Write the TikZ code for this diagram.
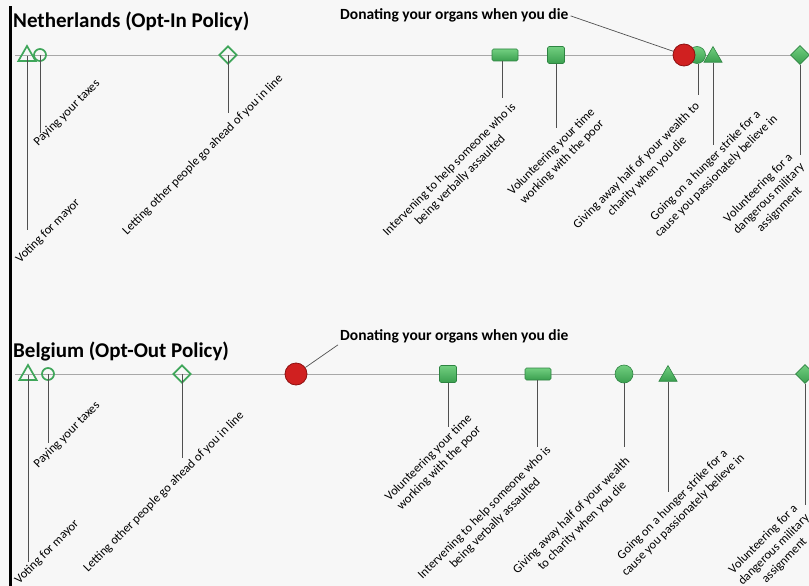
\documentclass[tikz,border=0pt]{standalone}
\usepackage{fontspec}
\setmainfont{Carlito}
\usepackage{xcolor}
\usetikzlibrary{shapes.geometric}
\definecolor{bgGray}{HTML}{F7F7F7}
\definecolor{axisGray}{HTML}{A8A8A8}
\definecolor{leadGray}{HTML}{505050}
\definecolor{outGreen}{HTML}{3FA65A}
\definecolor{topGreen}{HTML}{72CF80}
\definecolor{botGreen}{HTML}{3A9F4F}
\definecolor{edgeGreen}{HTML}{2E8442}
\definecolor{organRed}{HTML}{D02020}
\definecolor{edgeRed}{HTML}{8E1010}
\tikzset{
  openmark/.style={draw=outGreen, line width=1.7pt, fill=none, inner sep=0pt},
  fullmark/.style={draw=edgeGreen, line width=0.6pt, top color=topGreen, bottom color=botGreen, inner sep=0pt},
  trimark/.style={regular polygon, regular polygon sides=3, minimum size=20pt},
  circmark/.style={circle, minimum size=12pt},
  diamark/.style={diamond, minimum width=18pt, minimum height=18pt},
  barmark/.style={rectangle, rounded corners=1.5pt, minimum width=26pt, minimum height=12pt},
  sqmark/.style={rectangle, rounded corners=1.5pt, minimum width=17pt, minimum height=17pt},
  organmark/.style={circle, minimum size=22pt, inner sep=0pt, fill=organRed, draw=edgeRed, line width=0.8pt},
  leader/.style={draw=leadGray, line width=0.9pt},
  itemtext/.style={rotate=45, align=center, inner sep=0pt, font=\fontsize{12.5}{15}\selectfont},
  countrytitle/.style={anchor=base west, inner sep=0pt, font=\fontsize{21}{24}\selectfont\bfseries},
  organtext/.style={inner sep=2pt, font=\fontsize{15.5}{18}\selectfont\bfseries}
}
\begin{document}
\begin{tikzpicture}[x=1pt,y=-1pt]
\useasboundingbox (0,0) rectangle (809,586);
\clip (0,0) rectangle (809,586);
\fill[bgGray] (0,0) rectangle (809,586);
\fill[black] (9,6) rectangle (12,586);
\foreach \ly in {55,374}
    \draw[axisGray, line width=0.8pt] (15,\ly) -- (809,\ly);

% Netherlands
\node[countrytitle] (nlTitle) at (13,28) {Netherlands (Opt-In Policy)};
\node[openmark,trimark] (nlTri) at (27,56) {};
\node[openmark,circmark] (nlCirc) at (40,55) {};
\node[openmark,diamark] (nlDia) at (228,55) {};
\node[fullmark,barmark] (nlBar) at (505,55) {};
\node[fullmark,sqmark] (nlSq) at (556,55) {};
\node[fullmark,circle,minimum size=17pt] (nlCirc2) at (697,55) {};
\node[organmark] (nlOrgan) at (684,55) {};
\node[fullmark,trimark,minimum size=21pt] (nlTri2) at (713,57) {};
\node[fullmark,diamark,minimum width=19pt,minimum height=19pt] (nlDia2) at (800,55) {};
\node[organtext,anchor=base west] (nlDonate) at (338,20) {Donating your organs when you die};

\node[itemtext] (nlVote) at (48,231) {Voting for mayor};
\node[itemtext] (nlTax) at (67,113) {Paying your taxes};
\node[itemtext] (nlLine) at (203,155) {Letting other people go ahead of you in line};
\node[itemtext] (nlHelp) at (455,175) {Intervening to help someone who is\\being verbally assaulted};
\node[itemtext] (nlPoor) at (557,157) {Volunteering your time\\working with the poor};
\node[itemtext] (nlWealth) at (642,171) {Giving away half of your wealth to\\charity when you die};
\node[itemtext] (nlStrike) at (711,171) {Going on a hunger strike for a\\cause you passionately believe in};
\node[itemtext] (nlMil) at (769,199) {Volunteering for a\\dangerous military\\assignment};

\coordinate (nlVoteEnd) at (27,230);
\coordinate (nlTaxEnd) at (40,133);
\coordinate (nlLineEnd) at (228,113);
\coordinate (nlHelpEnd) at (502,98);
\coordinate (nlPoorEnd) at (556,128);
\coordinate (nlWealthEnd) at (698,95);
\coordinate (nlStrikeEnd) at (713,145);
\coordinate (nlMilEnd) at (800,155);
\draw[leader] (nlTri.center) -- (nlVoteEnd);
\draw[leader] (nlCirc.center) -- (nlTaxEnd);
\draw[leader] (nlDia.center) -- (nlLineEnd);
\draw[leader] (nlBar.south -| nlHelpEnd) -- (nlHelpEnd);
\draw[leader] (nlSq.south) -- (nlPoorEnd);
\draw[leader] (nlCirc2.south -| nlWealthEnd) -- (nlWealthEnd);
\draw[leader] (nlTri2.south) -- (nlStrikeEnd);
\draw[leader] (nlDia2.south) -- (nlMilEnd);
\draw[leader, line width=0.7pt] (nlDonate.east) -- (nlOrgan);

% Belgium
\node[countrytitle] (beTitle) at (13,357) {Belgium (Opt-Out Policy)};
\node[openmark,trimark] (beTri) at (28,375) {};
\node[openmark,circmark] (beCirc) at (48,374) {};
\node[openmark,diamark] (beDia) at (182,374) {};
\node[organmark] (beOrgan) at (296,374) {};
\node[fullmark,sqmark] (beSq) at (448,374) {};
\node[fullmark,barmark] (beBar) at (538,374) {};
\node[fullmark,circle,minimum size=18pt] (beCirc2) at (624,374) {};
\node[fullmark,trimark,minimum size=21pt] (beTri2) at (668,376) {};
\node[fullmark,diamark,minimum width=19pt,minimum height=19pt] (beDia2) at (805,374) {};
\node[organtext,anchor=base west] (beDonate) at (338,340) {Donating your organs when you die};

\node[itemtext] (beVote) at (47,552) {Voting for mayor};
\node[itemtext] (beTax) at (67,435) {Paying your taxes};
\node[itemtext] (beLine) at (164,492) {Letting other people go ahead of you in line};
\node[itemtext] (bePoor) at (434,463) {Volunteering your time\\working with the poor};
\node[itemtext] (beHelp) at (490,518) {Intervening to help someone who is\\being verbally assaulted};
\node[itemtext] (beWealth) at (577,521) {Giving away half of your wealth\\to charity when you die};
\node[itemtext] (beStrike) at (678,510) {Going on a hunger strike for a\\cause you passionately believe in};
\node[itemtext] (beMil) at (774,550) {Volunteering for a\\dangerous military\\assignment};

\coordinate (beVoteEnd) at (28,562);
\coordinate (beTaxEnd) at (48,443);
\coordinate (beLineEnd) at (182,458);
\coordinate (bePoorEnd) at (448,427);
\coordinate (beHelpEnd) at (537,447);
\coordinate (beWealthEnd) at (624,447);
\coordinate (beStrikeEnd) at (668,492);
\coordinate (beMilEnd) at (805,505);
\draw[leader] (beTri.center) -- (beVoteEnd);
\draw[leader] (beCirc.center) -- (beTaxEnd);
\draw[leader] (beDia.center) -- (beLineEnd);
\draw[leader] (beSq.south) -- (bePoorEnd);
\draw[leader] (beBar.south -| beHelpEnd) -- (beHelpEnd);
\draw[leader] (beCirc2.south) -- (beWealthEnd);
\draw[leader] (beTri2.south) -- (beStrikeEnd);
\draw[leader] (beDia2.south) -- (beMilEnd);
\draw[leader, line width=0.7pt] (beOrgan) -- (beDonate.south west);
\end{tikzpicture}
\end{document}
